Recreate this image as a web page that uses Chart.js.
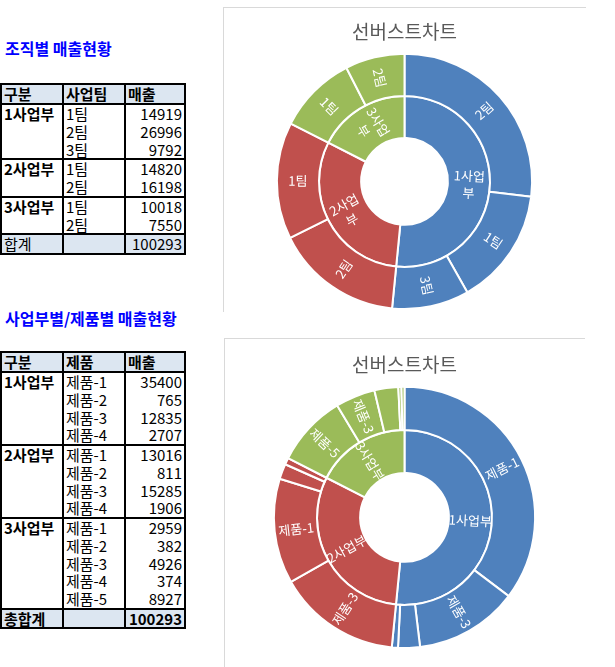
<!DOCTYPE html>
<html>
<head>
<meta charset="utf-8">
<script src="https://cdn.jsdelivr.net/npm/chart.js@4/dist/chart.umd.min.js"></script>
<style>
  body { margin: 0; background: #fff; font-family: "Noto Sans CJK KR", sans-serif; }
  .heading { position: absolute; left: 5px; color: #0000ff; font-weight: bold; font-size: 16px; line-height: 18px; }
  table { position: absolute; left: 0; border-collapse: collapse; font-size: 15px; table-layout: fixed; }
  td { padding: 0 2px; height: 17.75px; line-height: 17px; white-space: nowrap; border-left: 2px solid #000; border-right: 2px solid #000; }
  tr.head td { background: #dce6f1; font-weight: bold; border-top: 2px solid #000; border-bottom: 2px solid #000; }
  tr.total td { background: #dce6f1; border-top: 2px solid #000; border-bottom: 2px solid #000; }
  tr.groupstart td { border-top: 2px solid #000; }
  td.num { text-align: right; }
  td.div { font-weight: bold; vertical-align: top; }
  .box { position: absolute; border-top: 1px solid #d9d9d9; border-left: 1px solid #d9d9d9; }
  canvas { position: absolute; }
</style>
</head>
<body>
<div class="heading" style="top:39px">조직별 매출현황</div>
<table id="teamTable" style="top:83px"></table>
<div class="heading" style="top:309px">사업부별/제품별 매출현황</div>
<table id="productTable" style="top:351px"></table>

<div class="box" style="left:223px; top:7px; width:362px; height:304px"></div>
<canvas id="teamChart" width="361" height="303" style="left:224px; top:8px"></canvas>
<div class="box" style="left:224px; top:338px; width:360px; height:329px"></div>
<canvas id="productChart" width="359" height="328" style="left:225px; top:339px"></canvas>

<script>
const divisions = ['1사업부', '2사업부', '3사업부'];
const divisionColors = ['#4f81bd', '#c0504d', '#9bbb59'];

const teamNames = [['1팀', '2팀', '3팀'], ['1팀', '2팀'], ['1팀', '2팀']];
const teamSales = [[14919, 26996, 9792], [14820, 16198], [10018, 7550]];

const productNames = [
  ['제품-1', '제품-2', '제품-3', '제품-4'],
  ['제품-1', '제품-2', '제품-3', '제품-4'],
  ['제품-1', '제품-2', '제품-3', '제품-4', '제품-5'],
];
const productSales = [
  [35400, 765, 12835, 2707],
  [13016, 811, 15285, 1906],
  [2959, 382, 4926, 374, 8927],
];

const chartTitle = '선버스트차트';
const sum = (arr) => arr.reduce((a, b) => a + b, 0);

function buildTable(el, itemHeader, names, sales, totalLabel, boldTotal) {
  let html = '<colgroup><col style="width:62px"><col style="width:62px"><col style="width:60px"></colgroup>';
  html += `<tr class="head"><td>구분</td><td>${itemHeader}</td><td>매출</td></tr>`;
  divisions.forEach((d, i) => {
    names[i].forEach((n, j) => {
      html += `<tr${j === 0 ? ' class="groupstart"' : ''}>`;
      if (j === 0) html += `<td class="div" rowspan="${names[i].length}">${d}</td>`;
      html += `<td>${n}</td><td class="num">${sales[i][j]}</td></tr>`;
    });
  });
  const total = sum(sales.map(sum));
  const w = boldTotal ? ' style="font-weight:bold"' : '';
  html += `<tr class="total"><td${w}>${totalLabel}</td><td></td><td class="num"${w}>${total}</td></tr>`;
  el.innerHTML = html;
}

buildTable(document.getElementById('teamTable'), '사업팀', teamNames, teamSales, '합계', false);
buildTable(document.getElementById('productTable'), '제품', productNames, productSales, '총합계', true);

// labels drawn along the radius, flipped on the left half so they stay upright
const ringLabels = {
  id: 'ringLabels',
  afterDatasetsDraw(chart, args, opts) {
    const ctx = chart.ctx;
    chart.data.datasets.forEach((ds, i) => {
      const meta = chart.getDatasetMeta(i);
      const total = sum(ds.data);
      meta.data.forEach((arc, j) => {
        if (ds.data[j] / total < ds.minShare) return;
        const p = arc.getProps(['x', 'y', 'startAngle', 'endAngle', 'innerRadius', 'outerRadius'], true);
        const a = (p.startAngle + p.endAngle) / 2;
        const r = (p.innerRadius + p.outerRadius) / 2;
        ctx.save();
        ctx.translate(p.x + Math.cos(a) * r, p.y + Math.sin(a) * r);
        ctx.rotate(Math.cos(a) < -0.001 ? a + Math.PI : a);
        ctx.font = '13px "Noto Sans CJK KR"';
        ctx.fillStyle = '#ffffff';
        ctx.textAlign = 'center';
        ctx.textBaseline = 'middle';
        const lines = [];
        let cur = '';
        for (const ch of ds.names[j]) {
          if (opts.maxWidth && cur && ctx.measureText(cur + ch).width > opts.maxWidth) {
            lines.push(cur);
            cur = ch;
          } else {
            cur += ch;
          }
        }
        lines.push(cur);
        lines.forEach((ln, k) => ctx.fillText(ln, 0, (k - (lines.length - 1) / 2) * 17));
        ctx.restore();
      });
    });
  },
};

function sunburst(canvas, names, sales, padding, wrapWidth) {
  const outerData = [], outerNames = [], outerColors = [];
  names.forEach((group, i) => {
    group.map((n, j) => ({ n, v: sales[i][j] }))
      .sort((a, b) => b.v - a.v)
      .forEach((item) => {
        outerData.push(item.v);
        outerNames.push(item.n);
        outerColors.push(divisionColors[i]);
      });
  });

  new Chart(canvas, {
    type: 'doughnut',
    data: {
      labels: outerNames,
      datasets: [
        {
          data: outerData,
          names: outerNames,
          minShare: 0.04,
          backgroundColor: outerColors,
          borderColor: '#ffffff',
          borderWidth: 2,
        },
        {
          data: sales.map(sum),
          names: divisions,
          minShare: 0,
          backgroundColor: divisionColors,
          borderColor: '#ffffff',
          borderWidth: 2,
        },
      ],
    },
    options: {
      responsive: false,
      animation: false,
      cutout: '34%',
      layout: { padding },
      plugins: {
        legend: { display: false },
        tooltip: { enabled: false },
        title: {
          display: true,
          text: chartTitle,
          color: '#595959',
          font: { family: '"Noto Sans CJK KR"', size: 19, weight: 'normal' },
          padding: { top: 10, bottom: 10 },
        },
        ringLabels: { maxWidth: wrapWidth },
      },
    },
    plugins: [ringLabels],
  });
}

sunburst(document.getElementById('teamChart'), teamNames, teamSales, { top: 2, bottom: 1 }, 40);
sunburst(document.getElementById('productChart'), productNames, productSales, { top: 4, bottom: 18 }, 0);
</script>
</body>
</html>
